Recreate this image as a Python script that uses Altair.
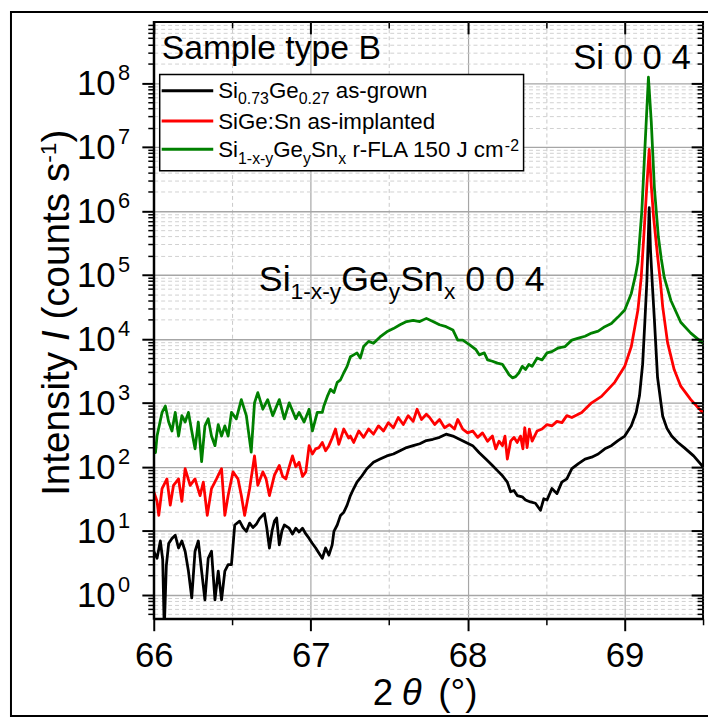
import altair as alt
import pandas as pd

# ---------------- data (log10 of counts/s) -------------
black_x = [66.000, 66.021, 66.042, 66.057, 66.067, 66.080, 66.095, 66.116, 66.137, 66.158, 66.179, 66.200,
           66.221, 66.242, 66.263, 66.284, 66.305, 66.326, 66.347, 66.368, 66.390, 66.411, 66.432, 66.453,
           66.474, 66.495, 66.516, 66.547, 66.569, 66.590, 66.611, 66.632, 66.653, 66.674, 66.705, 66.720,
           66.737, 66.754, 66.769, 66.783, 66.800, 66.817, 66.832, 66.863, 66.884, 66.905, 66.926, 66.948,
           66.969, 66.990, 67.011, 67.032, 67.053, 67.074, 67.095, 67.116, 67.137, 67.148, 67.169, 67.190,
           67.211, 67.232, 67.253, 67.274, 67.295, 67.327, 67.358, 67.400, 67.442, 67.485, 67.527, 67.569,
           67.611, 67.653, 67.695, 67.737, 67.779, 67.821, 67.863, 67.906, 67.948, 67.990, 68.032, 68.074,
           68.116, 68.158, 68.190, 68.222, 68.253, 68.274, 68.295, 68.316, 68.348, 68.369, 68.400, 68.432,
           68.464, 68.485, 68.506, 68.537, 68.569, 68.600, 68.632, 68.664, 68.706, 68.748, 68.790, 68.832,
           68.874, 68.916, 68.958, 69.001, 69.043, 69.074, 69.095, 69.115, 69.130, 69.142, 69.150, 69.157,
           69.165, 69.178, 69.190, 69.210, 69.243, 69.270, 69.300, 69.340, 69.380, 69.440, 69.500]
black_log = [0.68, 0.57, 0.84, 0.55, -0.55, 0.45, 0.80, 0.88, 0.93, 0.73, 0.84, 0.68,
             0.37, -0.05, 0.68, 0.84, 0.37, -0.08, 0.57, 0.68, -0.08, 0.37, -0.08, 0.37,
             0.47, 0.47, 1.09, 1.15, 1.05, 0.99, 1.12, 1.05, 1.10, 1.19, 1.27, 1.05,
             0.73, 1.00, 1.15, 1.20, 0.78, 1.00, 1.09, 1.04, 0.95, 1.04, 0.98, 1.04,
             0.95, 0.88, 0.80, 0.73, 0.65, 0.57, 0.73, 0.62, 0.78, 0.99, 1.09, 1.24,
             1.29, 1.40, 1.55, 1.66, 1.76, 1.86, 1.97, 2.07, 2.12, 2.17, 2.20, 2.25,
             2.30, 2.33, 2.36, 2.41, 2.43, 2.46, 2.51, 2.48, 2.43, 2.38, 2.33, 2.22,
             2.12, 2.02, 1.94, 1.86, 1.76, 1.61, 1.63, 1.55, 1.53, 1.48, 1.45, 1.43,
             1.32, 1.50, 1.48, 1.66, 1.58, 1.76, 1.81, 1.97, 2.05, 2.12, 2.15, 2.20,
             2.28, 2.33, 2.41, 2.48, 2.64, 2.85, 3.11, 3.60, 4.30, 4.90, 5.50, 6.05,
             5.40, 4.80, 4.30, 3.40, 2.79, 2.60, 2.48, 2.38, 2.30, 2.17, 2.00]

red_x = [66.000, 66.021, 66.032, 66.053, 66.084, 66.105, 66.126, 66.158, 66.179, 66.200, 66.232, 66.263,
         66.295, 66.316, 66.341, 66.368, 66.400, 66.432, 66.453, 66.474, 66.505, 66.537, 66.558, 66.579,
         66.611, 66.642, 66.663, 66.695, 66.716, 66.737, 66.769, 66.800, 66.821, 66.842, 66.863, 66.884,
         66.905, 66.926, 66.948, 66.969, 66.990, 67.011, 67.032, 67.053, 67.074, 67.095, 67.116, 67.137,
         67.158, 67.179, 67.211, 67.242, 67.253, 67.274, 67.306, 67.337, 67.369, 67.400, 67.432, 67.464,
         67.495, 67.527, 67.558, 67.590, 67.621, 67.653, 67.678, 67.706, 67.737, 67.758, 67.790, 67.821,
         67.853, 67.884, 67.916, 67.937, 67.969, 68.000, 68.032, 68.064, 68.095, 68.127, 68.158, 68.179,
         68.200, 68.222, 68.238, 68.253, 68.274, 68.295, 68.316, 68.337, 68.352, 68.364, 68.379, 68.393,
         68.411, 68.443, 68.474, 68.506, 68.538, 68.569, 68.601, 68.632, 68.664, 68.727, 68.790, 68.853,
         68.937, 69.001, 69.043, 69.085, 69.106, 69.125, 69.142, 69.157, 69.170, 69.185, 69.210, 69.228,
         69.243, 69.274, 69.316, 69.358, 69.422, 69.500]
red_log = [1.61, 1.46, 1.24, 1.66, 1.81, 1.40, 1.71, 1.81, 1.46, 1.97, 1.71, 1.81,
           1.55, 1.76, 1.24, 1.66, 1.81, 1.97, 1.24, 1.55, 1.92, 1.81, 1.55, 1.24,
           1.66, 2.17, 1.71, 1.92, 1.81, 1.55, 1.87, 2.02, 1.85, 1.81, 2.00, 2.17,
           2.00, 2.07, 1.85, 1.92, 2.33, 2.20, 2.28, 2.30, 2.38, 2.25, 2.33, 2.45,
           2.59, 2.35, 2.59, 2.45, 2.48, 2.38, 2.56, 2.46, 2.59, 2.51, 2.64, 2.56,
           2.69, 2.61, 2.77, 2.66, 2.80, 2.71, 2.90, 2.74, 2.82, 2.77, 2.66, 2.74,
           2.61, 2.66, 2.59, 2.74, 2.59, 2.53, 2.56, 2.46, 2.53, 2.40, 2.48, 2.28,
           2.40, 2.33, 2.48, 2.12, 2.40, 2.46, 2.38, 2.48, 2.28, 2.61, 2.30, 2.59,
           2.40, 2.56, 2.59, 2.66, 2.64, 2.71, 2.69, 2.80, 2.77, 2.85, 3.00, 3.10,
           3.32, 3.57, 3.88, 4.45, 4.96, 5.70, 6.40, 6.96, 6.40, 5.90, 5.30, 4.90,
           4.50, 3.94, 3.52, 3.26, 3.05, 2.84]

green_x = [66.000, 66.011, 66.021, 66.053, 66.074, 66.095, 66.116, 66.137, 66.158, 66.179, 66.200, 66.221,
           66.242, 66.263, 66.284, 66.305, 66.326, 66.347, 66.368, 66.390, 66.411, 66.432, 66.453, 66.474,
           66.495, 66.526, 66.558, 66.590, 66.621, 66.642, 66.663, 66.695, 66.726, 66.758, 66.800, 66.832,
           66.863, 66.905, 66.926, 66.958, 66.990, 67.011, 67.042, 67.074, 67.084, 67.106, 67.126, 67.148,
           67.169, 67.190, 67.211, 67.232, 67.253, 67.274, 67.295, 67.316, 67.337, 67.369, 67.400, 67.442,
           67.485, 67.527, 67.569, 67.611, 67.653, 67.695, 67.737, 67.779, 67.821, 67.863, 67.906, 67.937,
           67.969, 68.011, 68.053, 68.074, 68.106, 68.127, 68.158, 68.190, 68.222, 68.243, 68.264, 68.285,
           68.306, 68.327, 68.348, 68.369, 68.390, 68.411, 68.443, 68.474, 68.506, 68.537, 68.579, 68.621,
           68.664, 68.706, 68.748, 68.790, 68.832, 68.874, 68.916, 68.958, 69.001, 69.043, 69.070, 69.085,
           69.110, 69.130, 69.152, 69.170, 69.190, 69.215, 69.234, 69.253, 69.295, 69.358, 69.422, 69.500]
green_log = [2.33, 2.22, 2.48, 2.85, 2.95, 2.70, 2.56, 2.85, 2.48, 2.80, 2.70, 2.85,
             2.56, 2.28, 2.70, 2.08, 2.64, 2.75, 2.48, 2.33, 2.66, 2.48, 2.64, 2.48,
             2.85, 2.75, 3.05, 2.80, 2.23, 3.00, 3.16, 2.90, 3.05, 2.80, 3.05, 2.75,
             3.00, 2.75, 2.85, 2.70, 2.90, 2.56, 2.85, 2.85, 2.95, 3.10, 3.21, 3.16,
             3.32, 3.36, 3.47, 3.57, 3.72, 3.75, 3.78, 3.70, 3.88, 3.96, 3.93, 4.03,
             4.11, 4.16, 4.22, 4.27, 4.29, 4.27, 4.32, 4.27, 4.22, 4.19, 4.14, 3.98,
             3.98, 3.91, 3.83, 3.75, 3.78, 3.67, 3.65, 3.62, 3.60, 3.52, 3.44, 3.39,
             3.41, 3.47, 3.57, 3.52, 3.60, 3.57, 3.70, 3.67, 3.78, 3.80, 3.86, 3.88,
             3.98, 4.01, 4.04, 4.09, 4.12, 4.19, 4.24, 4.34, 4.45, 4.71, 5.00, 5.20,
             6.00, 7.00, 8.09, 7.40, 6.36, 5.60, 5.25, 4.96, 4.60, 4.26, 4.09, 3.93]

series_names = ["Si0.73Ge0.27 as-grown", "SiGe:Sn as-implanted", "Si1-x-yGeySnx r-FLA 150 J cm-2"]
series_colors = ["#000000", "#ff0000", "#008000"]

x_major = [66, 67, 68, 69]
x_minor = [66.5, 67.5, 68.5, 69.5]
decades = [1, 10, 100, 1e3, 1e4, 1e5, 1e6, 1e7, 1e8]
decade_exp = ["0", "1", "2", "3", "4", "5", "6", "7", "8"]

# ---------------- layout ----------------
W, H = 554, 602
FONT = "Liberation Sans"
XDOM = [66.0, 69.5]
YDOM = [0.42, 9.0e8]
xs = alt.Scale(domain=XDOM, nice=False, zero=False)
ys = alt.Scale(type="log", domain=YDOM, nice=False)

y_minor = []
for e in range(-1, 9):
    for k in range(2, 10):
        v = k * 10.0 ** e
        if YDOM[0] < v < YDOM[1] * 0.999:
            y_minor.append(v)
x_grid_major = [67, 68, 69]
x_grid_minor = [66.5, 67.5, 68.5]

ARIAL = {' ': 278, '-': 333, '.': 278, ':': 278, '(': 333, ')': 333, '°': 400,
         'A': 667, 'B': 667, 'F': 611, 'G': 778, 'I': 278, 'J': 500, 'L': 556, 'S': 667,
         'a': 556, 'c': 500, 'd': 556, 'e': 556, 'g': 556, 'i': 222, 'l': 222, 'm': 833,
         'n': 556, 'o': 556, 'p': 556, 'r': 333, 's': 500, 't': 278, 'u': 556, 'w': 722,
         'x': 500, 'y': 500, 'θ': 556}


def tw(s, fs):
    return sum(ARIAL.get(ch, 556) for ch in s) * fs / 1000.0


def run(pieces, x0, y0, normal, italic, rotated=False):
    pos = 0.0
    for text, fs, shift, it in pieces:
        lead = len(text) - len(text.lstrip(' '))
        t = text.strip(' ')
        p = pos + tw(' ' * lead, fs)
        row = {"text": t, "fs": fs}
        if rotated:
            row["px"] = x0 + shift
            row["py"] = y0 - p
        else:
            row["px"] = x0 + p
            row["py"] = y0 + shift
        (italic if it else normal).append(row)
        pos += tw(text, fs)


norm, ital, rnorm, rital = [], [], [], []
norm.append({"text": "Sample type B", "px": 8, "py": 37.7, "fs": 34})
norm.append({"text": "Si 0 0 4", "px": 423, "py": 47, "fs": 35})
run([("Si", 36, 0, False), ("1-x-y", 23, 8, False), ("Ge", 36, 0, False), ("y", 23, 8, False),
     ("Sn", 36, 0, False), ("x", 23, 8, False), (" 0 0 4", 36, 0, False)], 106, 271, norm, ital)
LG = 22.5
LS = 16
run([("Si", LG, 0, False), ("0.73", LS, 6.5, False), ("Ge", LG, 0, False), ("0.27", LS, 6.5, False),
     (" as-grown", LG, 0, False)], 65, 76.5, norm, ital)
run([("SiGe:Sn as-implanted", LG, 0, False)], 65, 108, norm, ital)
run([("Si", LG, 0, False), ("1-x-y", LS, 6.5, False), ("Ge", LG, 0, False), ("y", LS, 6.5, False),
     ("Sn", LG, 0, False), ("x", LS, 6.5, False), (" r-FLA 150 J cm", LG, 0, False), ("-2", LS, -6, False)],
    65, 136.5, norm, ital)
# x axis title
norm.append({"text": "2", "px": 221, "py": 689, "fs": 37})
ital.append({"text": "θ", "px": 250, "py": 689, "fs": 37})
norm.append({"text": "(°)", "px": 287, "py": 689, "fs": 37})
# y axis title (rotated)
run([("Intensity ", 39, 0, False), ("I", 39, 0, True), (" (counts s", 39, 0, False),
     ("-1", 23, -14, False), (")", 39, 0, False)], -85, 478, rnorm, rital, rotated=True)

legend_lines = pd.DataFrame({"x1": [8, 8, 8], "x2": [60, 60, 60], "y": [69.3, 100, 128.3],
                             "c": series_colors})

# ---------------- chart ----------------
dummy = pd.DataFrame({"x": [66.0], "I": [1.0]})


def axis_layer(xaxis, yaxis):
    return alt.Chart(dummy).mark_point(opacity=0).encode(
        x=alt.X("x:Q", scale=xs, axis=xaxis),
        y=alt.Y("I:Q", scale=ys, axis=yaxis),
    )


common = dict(title="", labelFont=FONT)

grid_major = axis_layer(
    alt.Axis(orient="bottom", values=x_grid_major, grid=True, gridColor="#a6a6a6", gridWidth=1.2,
             ticks=False, labels=False, domain=False, zindex=0, **common),
    alt.Axis(orient="left", values=decades, grid=True, gridColor="#a6a6a6", gridWidth=1.4,
             ticks=False, labels=False, domain=False, zindex=0, **common))
grid_minor = axis_layer(
    alt.Axis(orient="bottom", values=x_grid_minor, grid=True, gridColor="#c8c8c8", gridWidth=1,
             gridDash=[4, 3], ticks=False, labels=False, domain=False, zindex=0, **common),
    alt.Axis(orient="left", values=y_minor, grid=True, gridColor="#d0d0d0", gridWidth=1,
             gridDash=[4, 3], ticks=False, labels=False, domain=False, zindex=0, **common))
ax_major = axis_layer(
    alt.Axis(orient="bottom", values=x_major, grid=False, tickSize=12, tickWidth=2, tickColor="black",
             domain=True, domainColor="black", domainWidth=2, labels=True, labelFontSize=35,
             labelColor="black", labelBaseline="alphabetic", labelPadding=36, labelFlush=False,
             labelOverlap=False, format="d", zindex=2, **common),
    alt.Axis(orient="left", values=decades, grid=False, tickSize=12, tickWidth=2, tickColor="black",
             domain=True, domainColor="black", domainWidth=2, labels=False, zindex=2, **common))
ax_minor = axis_layer(
    alt.Axis(orient="bottom", values=x_minor, grid=False, tickSize=6, tickWidth=1.5, tickColor="black",
             domain=False, labels=False, zindex=2, **common),
    alt.Axis(orient="left", values=y_minor, grid=False, tickSize=6, tickWidth=1.5, tickColor="black",
             domain=False, labels=False, zindex=2, **common))
ax_major_in = axis_layer(
    alt.Axis(orient="top", values=x_major, offset=-12, grid=False, tickSize=12, tickWidth=2,
             tickColor="black", domain=False, labels=False, zindex=2, **common),
    alt.Axis(orient="right", values=decades, offset=-12, grid=False, tickSize=12, tickWidth=2,
             tickColor="black", domain=False, labels=False, zindex=2, **common))
ax_minor_in = axis_layer(
    alt.Axis(orient="top", values=x_minor[:-1], offset=-6, grid=False, tickSize=6, tickWidth=1.5,
             tickColor="black", domain=False, labels=False, zindex=2, **common),
    alt.Axis(orient="right", values=y_minor, offset=-6, grid=False, tickSize=6, tickWidth=1.5,
             tickColor="black", domain=False, labels=False, zindex=2, **common))


def series_layer(xv, lv, color):
    df = pd.DataFrame({"x": xv, "I": [10.0 ** v for v in lv]})
    return alt.Chart(df).mark_line(clip=True, strokeWidth=2.8, color=color, strokeJoin="round").encode(
        x=alt.X("x:Q", scale=xs, axis=None),
        y=alt.Y("I:Q", scale=ys, axis=None),
    )


lines = [series_layer(green_x, green_log, series_colors[2]),
         series_layer(red_x, red_log, series_colors[1]),
         series_layer(black_x, black_log, series_colors[0])]

dec_df = pd.DataFrame({"I": decades, "base": ["10"] * len(decades), "exp": decade_exp})
ylab_base = alt.Chart(dec_df).mark_text(align="right", baseline="alphabetic", dy=12.5, fontSize=35,
                                        font=FONT, color="black").encode(
    x=alt.value(-38.5), y=alt.Y("I:Q", scale=ys, axis=None), text="base:N")
ylab_exp = alt.Chart(dec_df).mark_text(align="left", baseline="alphabetic", dy=-3, fontSize=22,
                                       font=FONT, color="black").encode(
    x=alt.value(-36), y=alt.Y("I:Q", scale=ys, axis=None), text="exp:N")


def text_layer(rows, italic=False, angle=0):
    df = pd.DataFrame(rows)
    kw = dict(align="left", baseline="alphabetic", font=FONT, color="black")
    if italic:
        kw["fontStyle"] = "italic"
    if angle:
        kw["angle"] = angle
    return alt.Chart(df).mark_text(**kw).encode(
        x=alt.X("px:Q", scale=None, axis=None),
        y=alt.Y("py:Q", scale=None, axis=None),
        size=alt.Size("fs:Q", scale=None, legend=None),
        text="text:N",
    )


legend_box = alt.Chart(dummy).mark_rect(fill="white", stroke="black", strokeWidth=1.5).encode(
    x=alt.value(6), x2=alt.value(373), y=alt.value(53), y2=alt.value(150))
legend_rules = alt.Chart(legend_lines).mark_rule(strokeWidth=3).encode(
    x=alt.X("x1:Q", scale=None, axis=None), x2="x2:Q",
    y=alt.Y("y:Q", scale=None, axis=None),
    color=alt.Color("c:N", scale=None, legend=None))
frame = alt.Chart(dummy).mark_rect(fillOpacity=0, stroke="black", strokeWidth=2).encode(
    x=alt.value(-144), x2=alt.value(W + 40), y=alt.value(-10), y2=alt.value(700))

chart = alt.layer(
    frame, grid_minor, grid_major, ax_major, ax_minor, ax_major_in, ax_minor_in,
    *lines, legend_box, legend_rules,
    ylab_base, ylab_exp,
    text_layer(norm), text_layer(ital, italic=True),
    text_layer(rnorm, angle=270), text_layer(rital, italic=True, angle=270),
).resolve_scale(x="shared", y="shared").resolve_axis(x="independent", y="independent").properties(
    width=W, height=H,
    padding={"left": 147, "top": 11, "right": 5, "bottom": 99},
    autosize=alt.AutoSizeParams(type="none"),
    background="white",
).configure_view(stroke="black", strokeWidth=2)

chart.save("out.html", embed_options={"renderer": "svg", "actions": False})
